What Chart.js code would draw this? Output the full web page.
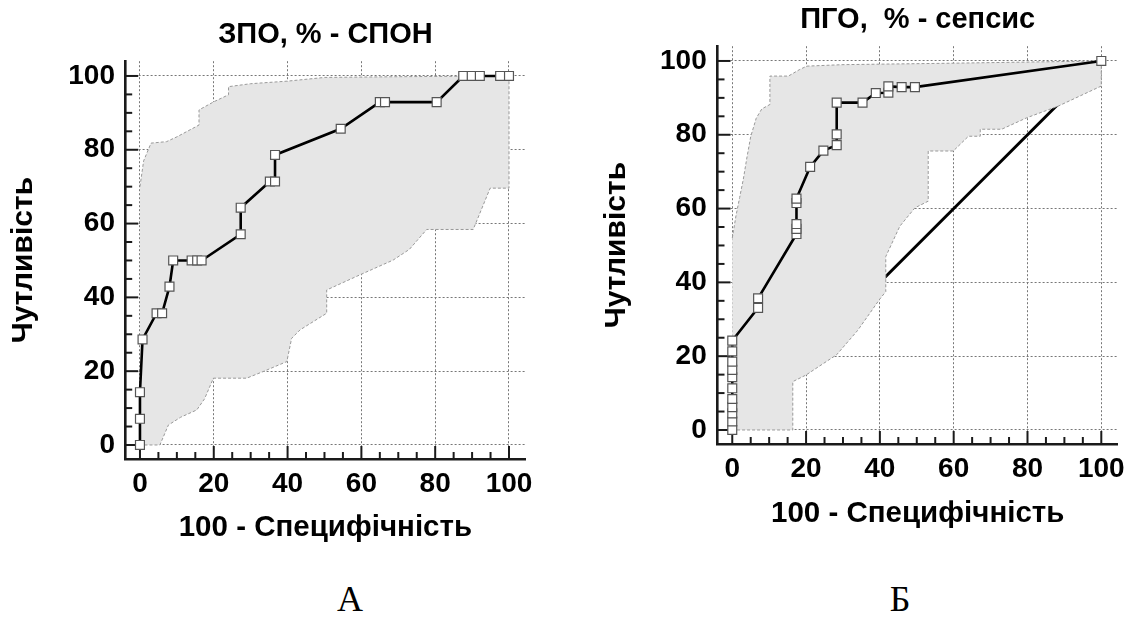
<!DOCTYPE html>
<html>
<head>
<meta charset="utf-8">
<script src="https://cdn.jsdelivr.net/npm/chart.js@4.4.0/dist/chart.umd.min.js"></script>
<style>
html,body{margin:0;padding:0;background:#fff;width:1131px;height:619px;overflow:hidden;}
.wrap{position:absolute;top:0;width:565px;height:560px;}
#wrapA{left:0;}
#wrapB{left:566px;}
.lab{position:absolute;font-family:"Liberation Serif","Times New Roman",serif;font-size:36px;line-height:36px;color:#000;transform:translateX(-50%);white-space:nowrap;}
</style>
</head>
<body>
<div class="wrap" id="wrapA"><canvas id="cA" width="565" height="560"></canvas></div>
<div class="wrap" id="wrapB"><canvas id="cB" width="565" height="560"></canvas></div>
<div class="lab" id="labA" style="left:350px;top:581px;">А</div>
<div class="lab" id="labB" style="left:900px;top:581px;">Б</div>
<script>
// ---------------- data ----------------
const tickValues = [0, 20, 40, 60, 80, 100];
const tickLabels = ['0', '20', '40', '60', '80', '100'];
const minorTickValues = [5, 10, 15, 25, 30, 35, 45, 50, 55, 65, 70, 75, 85, 90, 95];

const titleA = 'ЗПО, % - СПОН';
const titleB = 'ПГО,  % - сепсис';
const xAxisTitle = '100 - Специфічність';
const yAxisTitle = 'Чутливість';

// Chart A: ROC curve (100 - specificity, sensitivity)
const rocAx = [0, 0, 0, 0.7, 4.5, 6, 8, 9, 14, 15.5, 16.7, 27.3, 27.3, 35.2, 36.6, 36.6, 54.4, 65, 66.4, 80.4, 87.6, 89.9, 92.1, 97.6, 100];
const rocAy = [0, 7.1, 14.3, 28.6, 35.7, 35.7, 42.9, 50, 50, 50, 50, 57.1, 64.3, 71.4, 71.4, 78.6, 85.7, 92.9, 92.9, 92.9, 100, 100, 100, 100, 100];
// Chart A: confidence band
const upperAx = [0, 1, 3, 7.2, 10, 16, 16, 20, 24, 24, 30, 40, 50, 70, 100];
const upperAy = [70, 77, 81.8, 82.2, 83.5, 86.7, 90.8, 93, 94.9, 97.1, 97.9, 98.6, 99.6, 99.8, 100];
const lowerAx = [0, 5.4, 7.7, 11, 15.4, 17.5, 19.9, 28.9, 33.4, 39.8, 41.1, 43.4, 50.6, 50.6, 59.6, 68.6, 73, 77.7, 90.3, 94.9, 100];
const lowerAy = [0, 0, 5.4, 7.5, 9.5, 12.5, 18.1, 18.1, 19.9, 22.6, 28.9, 31.2, 35.7, 42, 46.1, 50.1, 53, 58.4, 58.4, 69.6, 69.6];

// Chart B: ROC curve
const rocBx = [0, 0, 0, 0, 0, 0, 0, 0, 0, 0, 0, 7, 7, 17.4, 17.4, 17.4, 17.4, 17.4, 21.1, 24.7, 28.3, 28.3, 28.3, 35.3, 38.9, 42.3, 42.3, 45.9, 49.5, 100];
const rocBy = [0, 2.3, 4.5, 6.2, 8.4, 11.3, 14.3, 16.3, 18.5, 21.3, 24.2, 33.1, 35.7, 53.1, 54.5, 55.8, 61.5, 62.7, 71.3, 75.7, 77.2, 80.1, 88.7, 88.7, 91.3, 91.4, 93.1, 92.9, 92.9, 100];
// Chart B: confidence band
const upperBx = [0, 1, 2, 3, 4, 5, 6.5, 8, 10.2, 10.2, 15.2, 18.3, 20.2, 30, 60, 100];
const upperBy = [52, 58, 63, 68, 74, 79.5, 84.5, 87, 88.2, 95.9, 95.9, 97.7, 98.6, 99, 99.4, 100];
const lowerBx = [0, 16.4, 16.4, 20, 28.3, 34, 40, 41.6, 41.6, 45.4, 49.5, 53.1, 53.1, 59.9, 64, 67.2, 67.2, 73, 79.8, 88.4, 100];
const lowerBy = [0, 0, 13.1, 14.9, 20.4, 27, 35.5, 37.5, 47, 55.2, 60.2, 62, 75.6, 75.6, 79.6, 79.6, 81.5, 81.5, 84.6, 87.8, 93.2];
// Chart B: reference diagonal
const diagX = [0, 100];
const diagY = [0, 100];

// ---------------- helpers ----------------
const pts = (xs, ys) => xs.map((x, i) => ({x: x, y: ys[i]}));
const polygon = (ux, uy, lx, ly) => pts(ux, uy).concat(pts(lx, ly).reverse());
const FAMILY = '"Liberation Sans", Arial, Helvetica, sans-serif';
const bold = (size) => ({family: FAMILY, size: size, weight: 'bold', lineHeight: 1.2});

const innerTicks = {
  id: 'innerTicks',
  beforeDatasetsDraw(chart) {
    const {ctx, chartArea: a, scales: {x, y}} = chart;
    ctx.save();
    ctx.strokeStyle = '#1a1a1a';
    ctx.lineWidth = 2;
    const draw = (vals, len) => {
      vals.forEach(v => {
        const py = y.getPixelForValue(v);
        ctx.beginPath(); ctx.moveTo(a.left, py); ctx.lineTo(a.left + len, py); ctx.stroke();
        const px = x.getPixelForValue(v);
        ctx.beginPath(); ctx.moveTo(px, a.bottom); ctx.lineTo(px, a.bottom - len); ctx.stroke();
      });
    };
    draw(tickValues, 13);
    draw(minorTickValues, 7);
    ctx.restore();
  }
};

function bandDataset(data) {
  return {data: data, showLine: true, fill: 'shape', backgroundColor: '#e6e6e6',
    borderColor: '#999', borderWidth: 1, borderDash: [3, 2], pointRadius: 0, order: 2};
}
function rocDataset(data) {
  return {data: data, showLine: true, fill: false, borderColor: '#000', borderWidth: 2.6,
    pointStyle: 'rect', pointRadius: 6.3, pointBackgroundColor: '#fff', pointBorderColor: '#555',
    pointBorderWidth: 1.2, order: 1};
}
function diagDataset(data) {
  return {data: data, showLine: true, fill: false, borderColor: '#000', borderWidth: 3,
    pointRadius: 0, order: 3};
}

function makeChart(id, g, title, datasets) {
  return new Chart(document.getElementById(id), {
    type: 'scatter',
    data: {datasets: datasets},
    options: {
      responsive: false, animation: false, events: [],
      layout: {padding: {left: 0, top: 0, right: g.padRight, bottom: 0}},
      plugins: {
        legend: {display: false},
        tooltip: {enabled: false},
        title: {display: true, text: title, fullSize: false, color: '#000', font: bold(29),
          padding: {top: g.titleTop, bottom: g.titleBottom}}
      },
      scales: {
        x: {
          type: 'linear', min: -4, max: 104.5,
          afterBuildTicks: s => { s.ticks = tickValues.map(v => ({value: v})); },
          afterFit: s => { s.height = g.xAxisH; s.paddingLeft = 0; s.paddingRight = 0; },
          ticks: {callback: (v, i) => tickLabels[i], color: '#000', font: bold(28),
            padding: g.xTickPad, maxRotation: 0, minRotation: 0, autoSkip: false},
          grid: {color: '#777', lineWidth: 1, drawTicks: false},
          border: {display: true, color: '#1a1a1a', width: 2.6, dash: [2, 2]},
          title: {display: true, text: xAxisTitle, color: '#000', font: bold(29.5),
            padding: {top: 0, bottom: g.xTitlePad}}
        },
        y: {
          type: 'linear', min: -3.8, max: 104,
          afterBuildTicks: s => { s.ticks = tickValues.map(v => ({value: v})); },
          afterFit: s => { s.width = g.yAxisW; s.paddingTop = 0; s.paddingBottom = 0; },
          ticks: {callback: (v, i) => tickLabels[i], color: '#000', font: bold(28),
            padding: g.yTickPad, autoSkip: false},
          grid: {color: '#777', lineWidth: 1, drawTicks: false},
          border: {display: true, color: '#1a1a1a', width: 2.6, dash: [2, 2]},
          title: {display: true, text: yAxisTitle, color: '#000', font: bold(30),
            padding: {top: g.yTitlePad, bottom: 0}}
        }
      }
    },
    plugins: [innerTicks]
  });
}

makeChart('cA',
  {padRight: 39.4, titleTop: 17.1, titleBottom: 9.3, xAxisH: 101, xTickPad: 8.2, xTitlePad: 14,
   yAxisW: 125.2, yTickPad: 10.2, yTitlePad: 6},
  titleA,
  [rocDataset(pts(rocAx, rocAy)), bandDataset(polygon(upperAx, upperAy, lowerAx, lowerAy))]);

makeChart('cB',
  {padRight: 13.1, titleTop: 2.8, titleBottom: 8.6, xAxisH: 116, xTickPad: 8.2, xTitlePad: 28.3,
   yAxisW: 151.5, yTickPad: 10.8, yTitlePad: 33},
  titleB,
  [rocDataset(pts(rocBx, rocBy)), bandDataset(polygon(upperBx, upperBy, lowerBx, lowerBy)),
   diagDataset(pts(diagX, diagY))]);
</script>
</body>
</html>
